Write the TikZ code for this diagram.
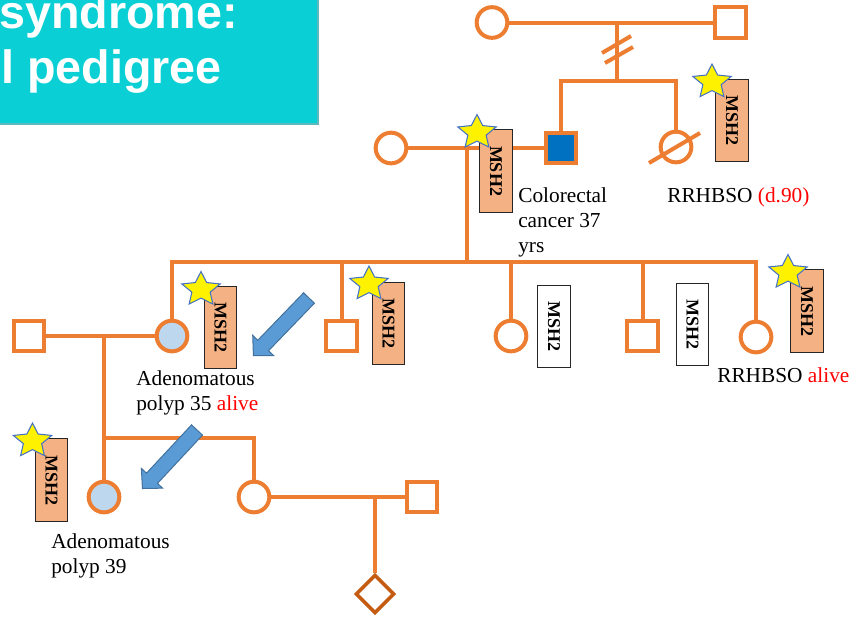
\documentclass[tikz,border=0pt]{standalone}
\usepackage{fontspec}
\setmainfont{Liberation Serif}
\newfontfamily\titlefont{Liberation Sans}
\usetikzlibrary{shapes.geometric}
\definecolor{pedorange}{HTML}{ED7D31}
\definecolor{diamondorange}{HTML}{C55A11}
\definecolor{affblue}{HTML}{0070C0}
\definecolor{polypblue}{HTML}{BDD7EE}
\definecolor{boxfill}{HTML}{F4B183}
\definecolor{staredge}{HTML}{4472C4}
\definecolor{arrowblue}{HTML}{5B9BD5}
\definecolor{arrowedge}{HTML}{41719C}
\definecolor{titlecyan}{HTML}{0ACFD4}
\definecolor{titleedge}{HTML}{5FB9BC}
\begin{document}
\begin{tikzpicture}[x=0.75pt,y=-0.75pt,
  line/.style={draw=pedorange, line width=3pt},
  female/.style={circle, draw=pedorange, line width=3pt, fill=white, minimum size=23pt, inner sep=0pt},
  male/.style={rectangle, draw=pedorange, line width=3pt, fill=white, minimum size=23pt, inner sep=0pt},
  unknownsex/.style={diamond, aspect=1, draw=diamondorange, line width=2.6pt, fill=white, minimum width=29pt, minimum height=29pt, inner sep=0pt},
  msbox/.style={rectangle, rotate=-90, draw=black!85, line width=0.75pt, fill=boxfill, minimum width=62pt, minimum height=24.5pt, inner sep=0pt, font=\bfseries\fontsize{13.5}{14}\selectfont},
  msplain/.style={msbox, fill=white},
  caption/.style={anchor=base west, inner sep=0pt, font=\fontsize{16}{19}\selectfont},
  titletext/.style={anchor=base west, inner sep=0pt, text=white, font=\titlefont\bfseries\fontsize{35}{40}\selectfont},
  msstar/.pic={\filldraw[fill=yellow, draw=staredge, line width=0.8pt, xscale=1.12]
      (270:18) -- (306:8.6) -- (342:18) -- (18:8.6) -- (54:18) -- (90:8.6)
      -- (126:18) -- (162:8.6) -- (198:18) -- (234:8.6) -- cycle;},
  callarrow/.pic={\filldraw[fill=arrowblue, draw=arrowedge, line width=0.75pt]
      (0,-7.5) -- (66,-7.5) -- (66,-14.5) -- (80,0) -- (66,14.5) -- (66,7.5) -- (0,7.5) -- cycle;}
]
\useasboundingbox (0,0) rectangle (853,619);

% title banner
\fill[titlecyan] (0,0) rectangle (318,124);
\draw[titleedge, line width=0.8pt] (0,124) -- (318,124) -- (318,0);
\node[titletext] (title1) at (-1,28) {syndrome:};
\node[titletext] (title2) at (1,83) {l pedigree};

% generation I
\node[female] (gf) at (492,22.5) {};
\node[male] (gm) at (730.5,22.5) {};
% generation II
\node[female] (mom) at (391,148) {};
\node[male, fill=affblue] (dad) at (561,148) {};
\node[female] (aunt) at (676,147) {};
% generation III
\node[female, fill=polypblue] (c1) at (172,336) {};
\node[male] (c2) at (341.5,336) {};
\node[female] (c3) at (511,336) {};
\node[male] (c4) at (642.5,336) {};
\node[female] (c5) at (756,337) {};
\node[male] (h3) at (29,336) {};
% generation IV
\node[female, fill=polypblue] (d1) at (104,497) {};
\node[female] (d2) at (254,497) {};
\node[male] (sp) at (422,497) {};
% generation V
\node[unknownsex] (d5) at (375,594) {};

% line junctions
\coordinate (g1d) at (617,22.5);
\coordinate (g1s) at (617,81);
\coordinate (g2d) at (467,148);
\coordinate (g2s) at (467,262);
\coordinate (g3d) at (104,336);
\coordinate (g3s) at (104,438);
\coordinate (g4d) at (375,497);

% generation I couple and sibship
\draw[line] (gf) -- (gm);
\draw[line] (g1d) -- (g1s);
\draw[line] (602,53) -- (631,36);
\draw[line] (605,63) -- (633,47);
\draw[line] (dad.north) -- (dad.north |- g1s) -- (aunt.north |- g1s) -- (aunt.north);
\draw[line] (649,163) -- (700,133);

% generation II couple and sibship
\draw[line] (mom) -- (dad);
\draw[line] (g2d) -- (g2s);
\draw[line] (c1.north) -- (c1.north |- g2s) -- (c5.north |- g2s) -- (c5.north);
\draw[line] (c2.north) -- (c2.north |- g2s);
\draw[line] (c3.north) -- (c3.north |- g2s);
\draw[line] (c4.north) -- (c4.north |- g2s);

% generation III couple and sibship
\draw[line] (h3) -- (c1);
\draw[line] (g3d) -- (g3s);
\draw[line] (d1.north) -- (d1.north |- g3s) -- (d2.north |- g3s) -- (d2.north);

% generation IV couple and child
\draw[line] (d2) -- (sp);
\draw[line] (g4d) -- (d5.north);

% MSH2 test results
\node[msbox] (tA) at (732,120.5) {MSH2\hspace{9pt}};
\node[msbox] (tB) at (496,171) {MSH2\hspace{9pt}};
\node[msbox] (tC) at (220.5,327.5) {MSH2\hspace{9pt}};
\node[msbox] (tD) at (388.5,323.5) {MSH2\hspace{9pt}};
\node[msplain] (tE) at (554,326.5) {MSH2\hspace{9pt}};
\node[msplain] (tF) at (692.5,324.5) {MSH2\hspace{9pt}};
\node[msbox] (tG) at (807,311) {MSH2\hspace{9pt}};
\node[msbox] (tH) at (51.5,480) {MSH2\hspace{9pt}};

% carrier stars
\pic at (712,82) {msstar};
\pic at (477,132.5) {msstar};
\pic at (201,289.5) {msstar};
\pic at (369,284) {msstar};
\pic at (788,272.5) {msstar};
\pic at (32.5,441) {msstar};

% pointer arrows
\pic[rotate=226] at (309,298) {callarrow};
\pic[rotate=227] at (197,430) {callarrow};

% captions
\node[caption] (capA1) at (518,202) {Colorectal};
\node[caption] (capA2) at (518,227) {cancer 37};
\node[caption] (capA3) at (518,252) {yrs};
\node[caption] (capB) at (667,202) {RRHBSO \textcolor{red}{(d.90)}};
\node[caption] (capC1) at (136,385) {Adenomatous};
\node[caption] (capC2) at (136,410) {polyp 35 \textcolor{red}{alive}};
\node[caption] (capD) at (717,382) {RRHBSO \textcolor{red}{alive}};
\node[caption] (capE1) at (51,548) {Adenomatous};
\node[caption] (capE2) at (51,573) {polyp 39};
\end{tikzpicture}
\end{document}
